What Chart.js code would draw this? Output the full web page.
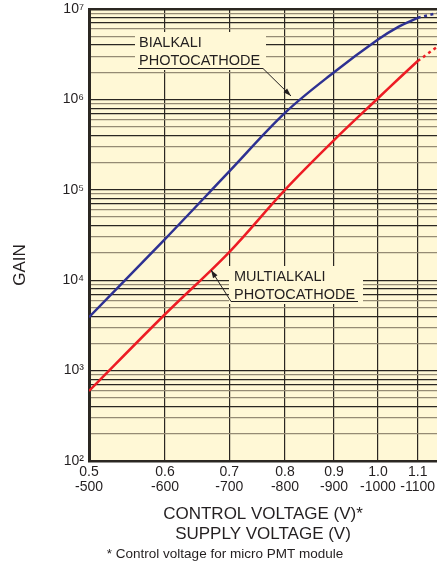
<!DOCTYPE html>
<html>
<head>
<meta charset="utf-8">
<script src="https://cdn.jsdelivr.net/npm/chart.js@4"></script>
<style>
body { margin: 0; background: #fff; }
</style>
</head>
<body>
<canvas id="gainChart" width="437" height="563"></canvas>
<script>
// values
let voltage = [0.5, 0.6, 0.7, 0.8, 0.9, 1.0, 1.05, 1.1];
let bialkali = [3.9e3, 2.85e4, 1.6e5, 7.1e5, 2.0e6, 4.6e6, 6.35e6, 8.0e6];
let multialkali = [595, 4.2e3, 2.05e4, 1.0e5, 3.55e5, 1.03e6, 1.68e6, 2.66e6];

// dotted part past 1.1 V
let voltageExt = [1.1, 1.152];
let bialkaliExt = [8.0e6, 9.0e6];
let multialkaliExt = [2.66e6, 3.8e6];

let controlTicks = [0.5, 0.6, 0.7, 0.8, 0.9, 1.0, 1.1];
let supplyTicks = ["-500", "-600", "-700", "-800", "-900", "-1000", "-1100"];
let gainDecades = [1e2, 1e3, 1e4, 1e5, 1e6, 1e7];
let gainLabels = ["10²", "10³", "10⁴", "10⁵", "10⁶", "10⁷"];

const dark = "#2b2722";
const gray = "#958b74";
const textColor = "#231f20";
const cream = "#fff8d6";

Chart.defaults.font.family = "'Liberation Sans', Arial, sans-serif";
Chart.defaults.color = textColor;

function toPoints(xs, ys) {
    return xs.map((x, i) => ({ x: x, y: ys[i] }));
}

function mantissa(v) {
    let p = Math.pow(10, Math.floor(Math.log10(v) + 1e-9));
    return Math.round(v / p);
}

const areaBackground = {
    id: "areaBackground",
    beforeDraw(chart) {
        let { ctx, chartArea } = chart;
        ctx.save();
        ctx.fillStyle = cream;
        ctx.fillRect(chartArea.left, chartArea.top, chartArea.right - chartArea.left, chartArea.bottom - chartArea.top);
        ctx.restore();
    }
};

function arrow(ctx, x1, y1, x2, y2) {
    ctx.beginPath();
    ctx.moveTo(x1, y1);
    ctx.lineTo(x2, y2);
    ctx.stroke();
    let a = Math.atan2(y2 - y1, x2 - x1);
    let len = 8, w = 2.6;
    ctx.beginPath();
    ctx.moveTo(x2, y2);
    ctx.lineTo(x2 - len * Math.cos(a) + w * Math.sin(a), y2 - len * Math.sin(a) - w * Math.cos(a));
    ctx.lineTo(x2 - len * Math.cos(a) - w * Math.sin(a), y2 - len * Math.sin(a) + w * Math.cos(a));
    ctx.closePath();
    ctx.fill();
}

function labelBox(ctx, box, lines, underline, lead) {
    ctx.fillStyle = cream;
    ctx.fillRect(box[0], box[1], box[2], box[3]);
    ctx.fillStyle = textColor;
    ctx.font = "14.5px 'Liberation Sans', Arial, sans-serif";
    ctx.textAlign = "left";
    ctx.textBaseline = "alphabetic";
    lines.forEach(l => ctx.fillText(l[0], l[1], l[2]));
    ctx.strokeStyle = textColor;
    ctx.lineWidth = 1;
    ctx.beginPath();
    ctx.moveTo(underline[0], underline[2]);
    ctx.lineTo(underline[1], underline[2]);
    ctx.stroke();
    arrow(ctx, lead[0], lead[1], lead[2], lead[3]);
}

const annotations = {
    id: "annotations",
    afterDatasetsDraw(chart) {
        let ctx = chart.ctx;
        ctx.save();
        labelBox(ctx, [135, 32, 131, 38],
            [["BIALKALI", 139, 47], ["PHOTOCATHODE", 139, 65]],
            [138, 263, 68.5], [263, 68.5, 291, 96]);
        labelBox(ctx, [229, 266, 134, 38],
            [["MULTIALKALI", 234, 281], ["PHOTOCATHODE", 234, 299]],
            [231, 358, 301.5], [231, 301.5, 211, 270]);
        ctx.restore();
    }
};

const titles = {
    id: "titles",
    afterDraw(chart) {
        let ctx = chart.ctx;
        ctx.save();
        ctx.fillStyle = textColor;
        ctx.textAlign = "center";
        ctx.textBaseline = "alphabetic";
        ctx.font = "17px 'Liberation Sans', Arial, sans-serif";
        ctx.fillText("CONTROL VOLTAGE (V)*", 263, 519);
        ctx.fillText("SUPPLY VOLTAGE (V)", 263, 539);
        ctx.font = "13.5px 'Liberation Sans', Arial, sans-serif";
        ctx.fillText("* Control voltage for micro PMT module", 225, 558);
        ctx.translate(25, 265);
        ctx.rotate(-Math.PI / 2);
        ctx.font = "17px 'Liberation Sans', Arial, sans-serif";
        ctx.fillText("GAIN", 0, 0);
        ctx.restore();
    }
};

let ctx = document.getElementById("gainChart").getContext("2d");

let gainChart = new Chart(ctx, {
    type: "line",
    data: {
        datasets: [
            {
                label: "BIALKALI PHOTOCATHODE",
                data: toPoints(voltage, bialkali),
                borderColor: "#2e3192",
                borderWidth: 2.5,
                tension: 0.35,
                pointRadius: 0
            },
            {
                label: "MULTIALKALI PHOTOCATHODE",
                data: toPoints(voltage, multialkali),
                borderColor: "#ed1c24",
                borderWidth: 2.5,
                tension: 0.35,
                pointRadius: 0
            },
            {
                label: "bialkali ext",
                data: toPoints(voltageExt, bialkaliExt),
                borderColor: "#2e3192",
                borderWidth: 2.5,
                borderDash: [3, 3.5],
                pointRadius: 0
            },
            {
                label: "multialkali ext",
                data: toPoints(voltageExt, multialkaliExt),
                borderColor: "#ed1c24",
                borderWidth: 2.5,
                borderDash: [3, 3.5],
                pointRadius: 0
            }
        ]
    },
    options: {
        responsive: false,
        animation: false,
        layout: { padding: { top: 9, right: 0, left: 0, bottom: 0 } },
        plugins: {
            legend: { display: false },
            tooltip: { enabled: false }
        },
        scales: {
            x: {
                type: "logarithmic",
                min: 0.5,
                max: 1.152,
                afterBuildTicks: (scale) => {
                    scale.ticks = controlTicks.map(v => ({ value: v }));
                },
                afterFit: (scale) => {
                    scale.height = 102;
                    scale.paddingLeft = 0;
                    scale.paddingRight = 0;
                },
                ticks: {
                    autoSkip: false,
                    maxRotation: 0,
                    padding: 3,
                    color: textColor,
                    font: { size: 14, lineHeight: 1.1 },
                    callback: (value, index) => [controlTicks[index].toFixed(1), supplyTicks[index]]
                },
                grid: {
                    color: dark,
                    lineWidth: 1.2,
                    drawTicks: false
                },
                border: { color: dark, width: 2.5 }
            },
            y: {
                type: "logarithmic",
                min: 1e2,
                max: 1e7,
                afterBuildTicks: (scale) => {
                    let t = [];
                    for (let i = 0; i < gainDecades.length - 1; i++) {
                        for (let m = 1; m <= 9; m++) {
                            t.push({ value: gainDecades[i] * m });
                        }
                    }
                    t.push({ value: 1e7 });
                    scale.ticks = t;
                },
                afterFit: (scale) => {
                    scale.width = 89;
                    scale.paddingTop = 0;
                    scale.paddingBottom = 0;
                },
                ticks: {
                    autoSkip: false,
                    padding: 5,
                    color: textColor,
                    font: { size: 14 },
                    callback: (value) => {
                        let i = gainDecades.indexOf(value);
                        return i >= 0 ? gainLabels[i] : "";
                    }
                },
                grid: {
                    drawTicks: false,
                    color: (c) => {
                        let m = mantissa(c.tick.value);
                        return [1, 4, 7, 8].includes(m) ? dark : gray;
                    },
                    lineWidth: (c) => (c.tick.value === 1e7 ? 2.5 : 1.2)
                },
                border: { color: dark, width: 3 }
            }
        }
    },
    plugins: [areaBackground, annotations, titles]
});
</script>
</body>
</html>
